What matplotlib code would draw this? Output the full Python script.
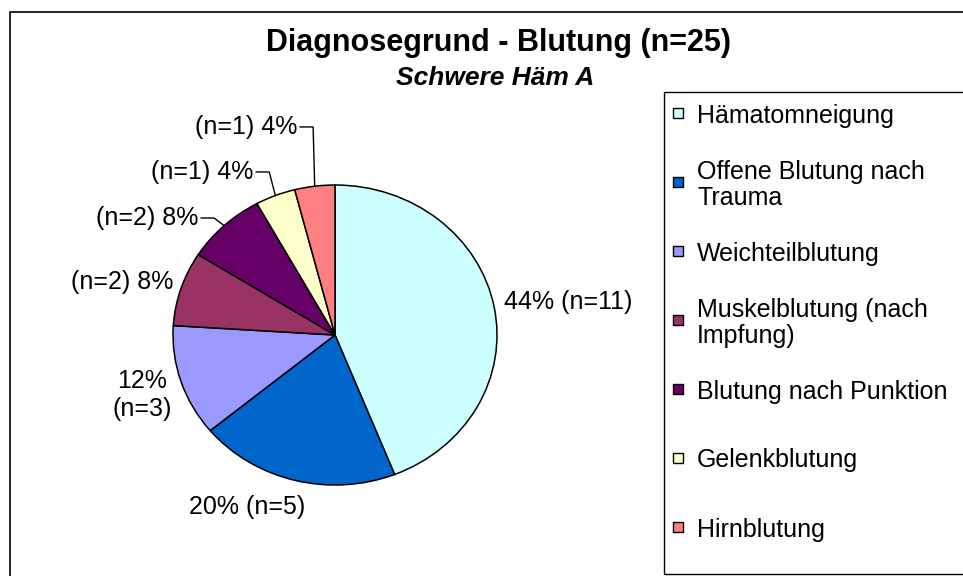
import numpy as np
import matplotlib.pyplot as plt
from matplotlib.patches import Rectangle

plt.rcParams['font.family'] = ['Liberation Sans', 'DejaVu Sans']

categories = ['Hämatomneigung', 'Offene Blutung nach\nTrauma', 'Weichteilblutung',
              'Muskelblutung (nach\nImpfung)', 'Blutung nach Punktion', 'Gelenkblutung',
              'Hirnblutung']
counts = [11, 5, 3, 2, 2, 1, 1]
colors = ['#CCFFFF', '#0066CC', '#9999FF', '#993366', '#660066', '#FFFFCC', '#FF8080']
total = sum(counts)

# how each data label is written in the original
label_fmt = ['{p}% (n={n})', '{p}% (n={n})', '{p}%\n(n={n})', '(n={n}) {p}%',
             '(n={n}) {p}%', '(n={n}) {p}%', '(n={n}) {p}%']
# label placement in pie units (x, y, ha, leader line)
label_pos = [(1.045, 0.22, 'left', False), (-0.54, -1.147, 'center', False),
             (-1.19, -0.40, 'center', False), (-1.0, 0.353, 'right', False),
             (-0.846, 0.78, 'right', True), (-0.506, 1.087, 'right', True),
             (-0.235, 1.387, 'right', True)]

W, H = 963, 576
fig = plt.figure(figsize=(W / 100, H / 100), dpi=100)

# outer chart frame
fig.patches.append(Rectangle((10 / W, -0.05), 1.1, (H - 12) / H + 0.05, transform=fig.transFigure,
                             fill=False, edgecolor='black', lw=1.2))

fig.text(498 / W, 1 - 51 / H, 'Diagnosegrund - Blutung (n=25)', ha='center', va='baseline',
         fontsize=22, fontweight='bold')
fig.text(495 / W, 1 - 85 / H, 'Schwere Häm A', ha='center', va='baseline',
         fontsize=19, fontweight='bold', fontstyle='italic')

# pie (slightly wider than tall, like the original)
cx, cy, rx, ry = 335, 335, 162, 150
ax = fig.add_axes([(cx - rx) / W, (H - cy - ry) / H, 2 * rx / W, 2 * ry / H])
wedges, _ = ax.pie(counts, colors=colors, startangle=90, counterclock=False,
                   wedgeprops=dict(edgecolor='black', linewidth=1.1))
ax.set_aspect('auto')
ax.set_xlim(-1, 1)
ax.set_ylim(-1, 1)

for i, w in enumerate(wedges):
    p = round(100 * counts[i] / total)
    txt = label_fmt[i].format(p=p, n=counts[i])
    tx, ty, ha, leader = label_pos[i]
    ax.text(tx, ty, txt, ha=ha, va='center', fontsize=18, multialignment='center')
    if leader:
        mid = np.deg2rad((w.theta1 + w.theta2) / 2)
        ax.plot([tx + 0.02, tx + 0.1, np.cos(mid)], [ty, ty, np.sin(mid)],
                color='black', lw=1.0, clip_on=False)

# legend box drawn by hand so the entries keep Excel's even spacing
fig.patches.append(Rectangle((664 / W, 1 - 574 / H), 1, (574 - 92) / H, transform=fig.transFigure,
                             fill=False, edgecolor='black', lw=1.0))
for i, lab in enumerate(categories):
    y = 113 + i * 69
    fig.patches.append(Rectangle((673 / W, 1 - (y + 5) / H), 10 / W, 10 / H,
                                 transform=fig.transFigure, facecolor=colors[i],
                                 edgecolor='black', lw=1.0))
    fig.text(697 / W, 1 - y / H, lab, ha='left', va='center_baseline', fontsize=18,
             linespacing=1.1)

fig.savefig('out.png', dpi=100)
